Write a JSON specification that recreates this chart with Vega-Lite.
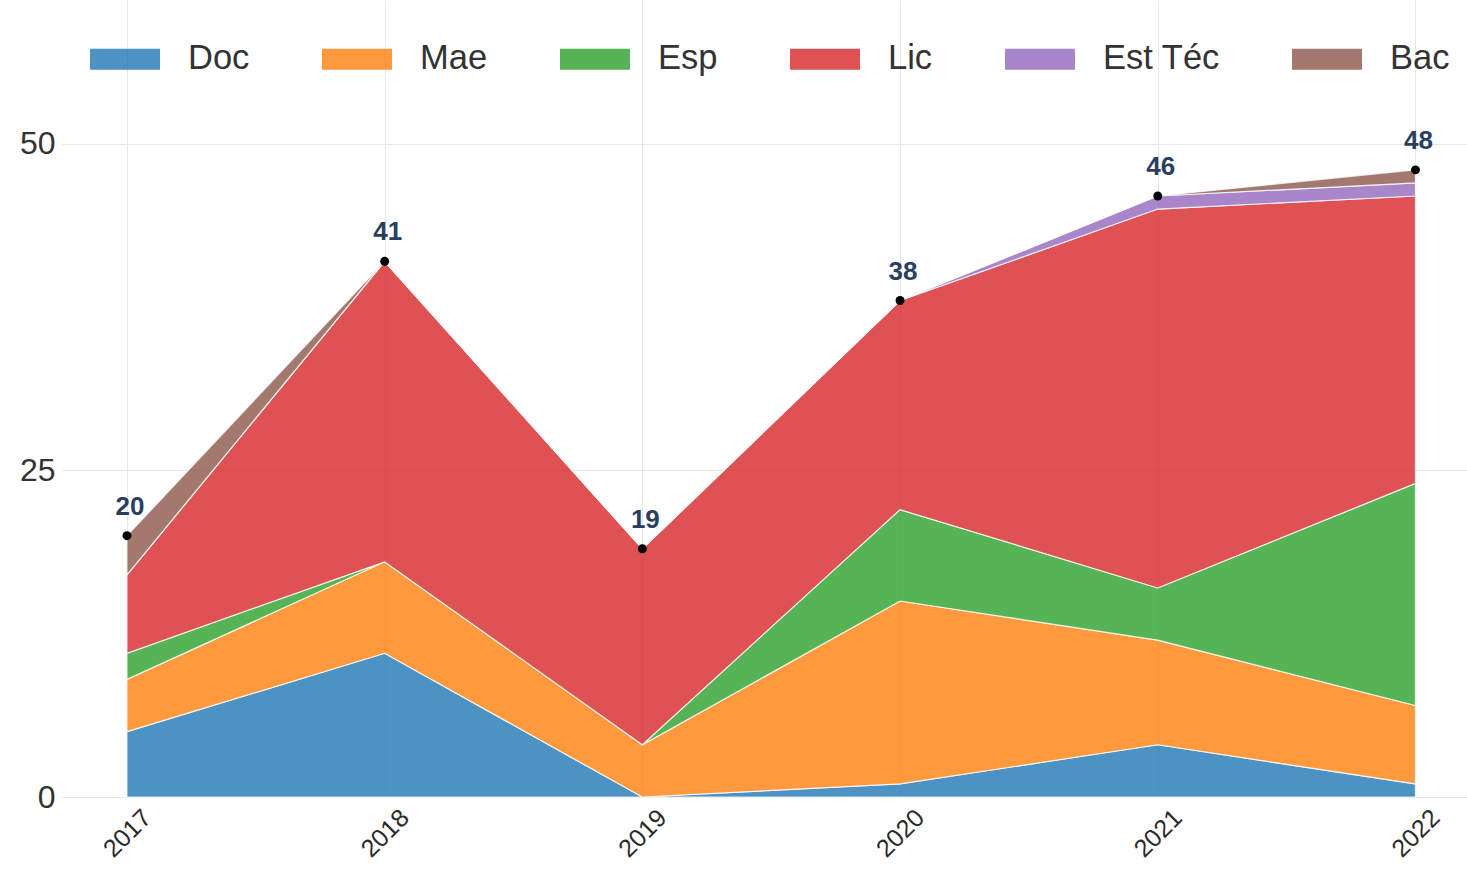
{
  "$schema": "https://vega.github.io/schema/vega-lite/v6.json",
  "autosize": {"type": "none"},
  "width": 1405,
  "height": 797,
  "padding": {"left": 62, "top": 0, "right": 0, "bottom": 73},
  "background": "white",
  "config": {
    "view": {"stroke": null},
    "font": "Liberation Sans",
    "axis": {"gridColor": "#e6e6e6", "gridWidth": 1, "domain": false, "ticks": false, "title": null}
  },
  "datasets": {
    "main": [
      {"year": 2017, "cat": "Doc", "n": 5}, {"year": 2017, "cat": "Mae", "n": 4}, {"year": 2017, "cat": "Esp", "n": 2}, {"year": 2017, "cat": "Lic", "n": 6}, {"year": 2017, "cat": "Est Téc", "n": 0}, {"year": 2017, "cat": "Bac", "n": 3},
      {"year": 2018, "cat": "Doc", "n": 11}, {"year": 2018, "cat": "Mae", "n": 7}, {"year": 2018, "cat": "Esp", "n": 0}, {"year": 2018, "cat": "Lic", "n": 23}, {"year": 2018, "cat": "Est Téc", "n": 0}, {"year": 2018, "cat": "Bac", "n": 0},
      {"year": 2019, "cat": "Doc", "n": 0}, {"year": 2019, "cat": "Mae", "n": 4}, {"year": 2019, "cat": "Esp", "n": 0}, {"year": 2019, "cat": "Lic", "n": 15}, {"year": 2019, "cat": "Est Téc", "n": 0}, {"year": 2019, "cat": "Bac", "n": 0},
      {"year": 2020, "cat": "Doc", "n": 1}, {"year": 2020, "cat": "Mae", "n": 14}, {"year": 2020, "cat": "Esp", "n": 7}, {"year": 2020, "cat": "Lic", "n": 16}, {"year": 2020, "cat": "Est Téc", "n": 0}, {"year": 2020, "cat": "Bac", "n": 0},
      {"year": 2021, "cat": "Doc", "n": 4}, {"year": 2021, "cat": "Mae", "n": 8}, {"year": 2021, "cat": "Esp", "n": 4}, {"year": 2021, "cat": "Lic", "n": 29}, {"year": 2021, "cat": "Est Téc", "n": 1}, {"year": 2021, "cat": "Bac", "n": 0},
      {"year": 2022, "cat": "Doc", "n": 1}, {"year": 2022, "cat": "Mae", "n": 6}, {"year": 2022, "cat": "Esp", "n": 17}, {"year": 2022, "cat": "Lic", "n": 22}, {"year": 2022, "cat": "Est Téc", "n": 1}, {"year": 2022, "cat": "Bac", "n": 1}
    ],
    "totals": [
      {"year": 2017, "total": 20}, {"year": 2018, "total": 41}, {"year": 2019, "total": 19},
      {"year": 2020, "total": 38}, {"year": 2021, "total": 46}, {"year": 2022, "total": 48}
    ]
  },
  "layer": [
    {
      "data": {"name": "main"},
      "transform": [{"calculate": "indexof(['Doc','Mae','Esp','Lic','Est Téc','Bac'], datum.cat)", "as": "stackOrder"}],
      "mark": {"type": "area", "fillOpacity": 0.8, "stroke": "white", "strokeWidth": 1.2, "strokeOpacity": 0.8},
      "encoding": {
        "x": {"field": "year", "type": "quantitative",
              "scale": {"domain": [2016.748, 2022.2], "nice": false, "zero": false},
              "axis": {"values": [2017, 2018, 2019, 2020, 2021, 2022], "format": "d", "labelAngle": -45, "labelAlign": "center", "labelBaseline": "middle", "labelPadding": 36, "labelFontSize": 25, "labelColor": "#2a2a2a", "grid": true}},
        "y": {"field": "n", "type": "quantitative", "stack": "zero",
              "scale": {"domain": [0, 61], "nice": false},
              "axis": {"values": [0, 25, 50], "labelFontSize": 32, "labelColor": "#333", "labelPadding": 7}},
        "order": {"field": "stackOrder", "type": "quantitative", "sort": "ascending"},
        "color": {"field": "cat", "type": "nominal",
                  "sort": ["Doc", "Mae", "Esp", "Lic", "Est Téc", "Bac"],
                  "scale": {"domain": ["Doc", "Mae", "Esp", "Lic", "Est Téc", "Bac"], "range": ["#1f77b4", "#ff7f0e", "#2ca02c", "#d62728", "#9467bd", "#8c564b"]},
                  "legend": {"orient": "none", "legendX": 28, "legendY": 24, "direction": "horizontal", "title": null, "padding": 0,
                             "symbolType": "M-1,-0.3L1,-0.3L1,0.3L-1,0.3Z", "symbolSize": 4900, "symbolOpacity": 0.8, "symbolStrokeWidth": 0,
                             "labelFontSize": 34.5, "labelColor": "#333", "labelOffset": 28, "columnPadding": 72}}
      }
    },
    {
      "data": {"name": "totals"},
      "mark": {"type": "point", "filled": true, "color": "black", "size": 80, "opacity": 1},
      "encoding": {
        "x": {"field": "year", "type": "quantitative"},
        "y": {"field": "total", "type": "quantitative"}
      }
    },
    {
      "data": {"name": "totals"},
      "mark": {"type": "text", "fontWeight": "bold", "fontSize": 26, "color": "#2a3f5f", "dy": -16, "dx": 3, "baseline": "bottom"},
      "encoding": {
        "x": {"field": "year", "type": "quantitative"},
        "y": {"field": "total", "type": "quantitative"},
        "text": {"field": "total", "type": "quantitative"}
      }
    }
  ]
}
